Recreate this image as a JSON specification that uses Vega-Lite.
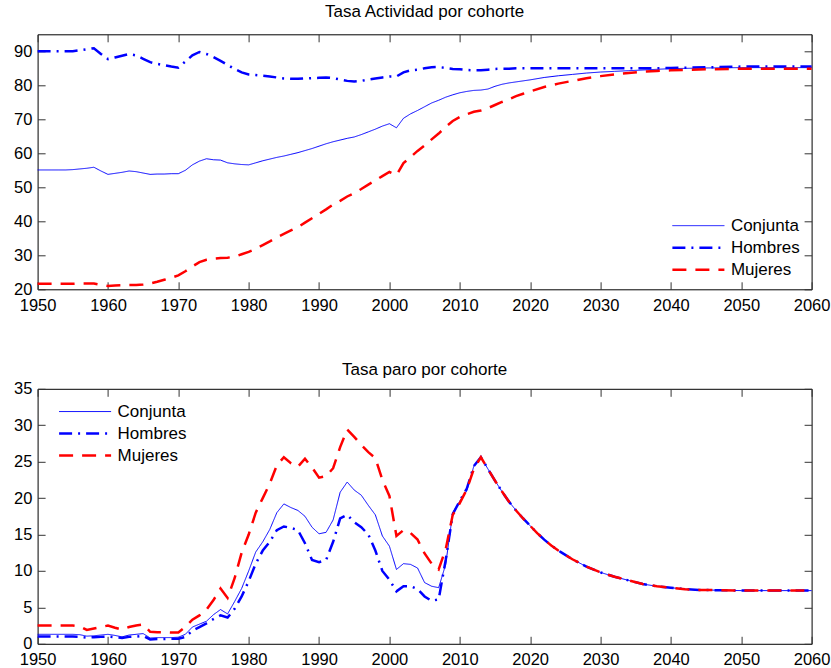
{
  "$schema": "https://vega.github.io/schema/vega-lite/v6.json",
  "padding": {"left": 12.6, "top": 2.3, "right": 5, "bottom": 5},
  "background": "white",
  "config": {
    "font": "Liberation Sans",
    "view": {"stroke": "#000000", "strokeWidth": 1},
    "axis": {"grid": false, "domain": false, "ticks": true, "tickSize": -7.5, "tickColor": "#333333", "tickWidth": 1, "labelFontSize": 16.5, "labelColor": "#000000", "labelFont": "Liberation Sans", "labelFlush": false, "labelOverlap": false},
    "axisBottom": {"labelPadding": 15.7},
    "axisLeft": {"labelPadding": 13.2},
    "legend": {"labelFontSize": 17, "labelFont": "Liberation Sans", "labelColor": "#000000", "symbolType": "stroke", "symbolSize": 2704, "clipHeight": 21.7, "labelOffset": 5, "padding": 0, "rowPadding": 0},
    "title": {"fontSize": 17, "font": "Liberation Sans", "fontWeight": "normal", "color": "#000000", "frame": "group", "anchor": "middle"}
  },
  "datasets": {
    "act": [
      {"year":1950,"serie":"Conjunta","value":55.1},{"year":1951,"serie":"Conjunta","value":55.1},{"year":1952,"serie":"Conjunta","value":55.1},{"year":1953,"serie":"Conjunta","value":55.1},{"year":1954,"serie":"Conjunta","value":55.1},{"year":1955,"serie":"Conjunta","value":55.2},{"year":1956,"serie":"Conjunta","value":55.4},{"year":1957,"serie":"Conjunta","value":55.6},{"year":1958,"serie":"Conjunta","value":55.9},{"year":1959,"serie":"Conjunta","value":54.8},
      {"year":1960,"serie":"Conjunta","value":53.8},{"year":1961,"serie":"Conjunta","value":54.1},{"year":1962,"serie":"Conjunta","value":54.4},{"year":1963,"serie":"Conjunta","value":54.8},{"year":1964,"serie":"Conjunta","value":54.6},{"year":1965,"serie":"Conjunta","value":54.2},{"year":1966,"serie":"Conjunta","value":53.8},{"year":1967,"serie":"Conjunta","value":53.9},{"year":1968,"serie":"Conjunta","value":53.9},{"year":1969,"serie":"Conjunta","value":54.0},
      {"year":1970,"serie":"Conjunta","value":54.0},{"year":1971,"serie":"Conjunta","value":55.0},{"year":1972,"serie":"Conjunta","value":56.6},{"year":1973,"serie":"Conjunta","value":57.7},{"year":1974,"serie":"Conjunta","value":58.4},{"year":1975,"serie":"Conjunta","value":58.1},{"year":1976,"serie":"Conjunta","value":58.0},{"year":1977,"serie":"Conjunta","value":57.2},{"year":1978,"serie":"Conjunta","value":56.9},{"year":1979,"serie":"Conjunta","value":56.7},
      {"year":1980,"serie":"Conjunta","value":56.6},{"year":1981,"serie":"Conjunta","value":57.2},{"year":1982,"serie":"Conjunta","value":57.8},{"year":1983,"serie":"Conjunta","value":58.3},{"year":1984,"serie":"Conjunta","value":58.8},{"year":1985,"serie":"Conjunta","value":59.2},{"year":1986,"serie":"Conjunta","value":59.7},{"year":1987,"serie":"Conjunta","value":60.2},{"year":1988,"serie":"Conjunta","value":60.8},{"year":1989,"serie":"Conjunta","value":61.4},
      {"year":1990,"serie":"Conjunta","value":62.1},{"year":1991,"serie":"Conjunta","value":62.8},{"year":1992,"serie":"Conjunta","value":63.4},{"year":1993,"serie":"Conjunta","value":63.9},{"year":1994,"serie":"Conjunta","value":64.4},{"year":1995,"serie":"Conjunta","value":64.8},{"year":1996,"serie":"Conjunta","value":65.5},{"year":1997,"serie":"Conjunta","value":66.3},{"year":1998,"serie":"Conjunta","value":67.1},{"year":1999,"serie":"Conjunta","value":68.0},
      {"year":2000,"serie":"Conjunta","value":68.7},{"year":2001,"serie":"Conjunta","value":67.5},{"year":2002,"serie":"Conjunta","value":70.3},{"year":2003,"serie":"Conjunta","value":71.6},{"year":2004,"serie":"Conjunta","value":72.6},{"year":2005,"serie":"Conjunta","value":73.7},{"year":2006,"serie":"Conjunta","value":74.8},{"year":2007,"serie":"Conjunta","value":75.6},{"year":2008,"serie":"Conjunta","value":76.5},{"year":2009,"serie":"Conjunta","value":77.2},
      {"year":2010,"serie":"Conjunta","value":77.8},{"year":2011,"serie":"Conjunta","value":78.2},{"year":2012,"serie":"Conjunta","value":78.5},{"year":2013,"serie":"Conjunta","value":78.6},{"year":2014,"serie":"Conjunta","value":78.9},{"year":2015,"serie":"Conjunta","value":79.7},{"year":2016,"serie":"Conjunta","value":80.3},{"year":2017,"serie":"Conjunta","value":80.7},{"year":2018,"serie":"Conjunta","value":81.0},{"year":2019,"serie":"Conjunta","value":81.3},
      {"year":2020,"serie":"Conjunta","value":81.6},{"year":2022,"serie":"Conjunta","value":82.3},{"year":2024,"serie":"Conjunta","value":82.8},{"year":2026,"serie":"Conjunta","value":83.2},{"year":2028,"serie":"Conjunta","value":83.6},{"year":2030,"serie":"Conjunta","value":83.9},{"year":2032,"serie":"Conjunta","value":84.1},{"year":2034,"serie":"Conjunta","value":84.3},{"year":2036,"serie":"Conjunta","value":84.5},{"year":2038,"serie":"Conjunta","value":84.7},
      {"year":2040,"serie":"Conjunta","value":84.9},{"year":2045,"serie":"Conjunta","value":85.1},{"year":2050,"serie":"Conjunta","value":85.2},{"year":2055,"serie":"Conjunta","value":85.2},{"year":2060,"serie":"Conjunta","value":85.2},

      {"year":1950,"serie":"Hombres","value":90.0},{"year":1951,"serie":"Hombres","value":90.0},{"year":1952,"serie":"Hombres","value":90.0},{"year":1953,"serie":"Hombres","value":90.0},{"year":1954,"serie":"Hombres","value":90.0},{"year":1955,"serie":"Hombres","value":90.0},{"year":1956,"serie":"Hombres","value":90.3},{"year":1957,"serie":"Hombres","value":90.6},{"year":1958,"serie":"Hombres","value":90.9},{"year":1959,"serie":"Hombres","value":89.2},
      {"year":1960,"serie":"Hombres","value":87.7},{"year":1961,"serie":"Hombres","value":88.2},{"year":1962,"serie":"Hombres","value":88.7},{"year":1963,"serie":"Hombres","value":89.2},{"year":1964,"serie":"Hombres","value":88.8},{"year":1965,"serie":"Hombres","value":87.8},{"year":1966,"serie":"Hombres","value":86.8},{"year":1967,"serie":"Hombres","value":86.3},{"year":1968,"serie":"Hombres","value":85.9},{"year":1969,"serie":"Hombres","value":85.5},
      {"year":1970,"serie":"Hombres","value":85.2},{"year":1971,"serie":"Hombres","value":87.0},{"year":1972,"serie":"Hombres","value":88.8},{"year":1973,"serie":"Hombres","value":89.8},{"year":1974,"serie":"Hombres","value":89.2},{"year":1975,"serie":"Hombres","value":88.3},{"year":1976,"serie":"Hombres","value":87.2},{"year":1977,"serie":"Hombres","value":86.0},{"year":1978,"serie":"Hombres","value":84.8},{"year":1979,"serie":"Hombres","value":83.8},
      {"year":1980,"serie":"Hombres","value":83.2},{"year":1981,"serie":"Hombres","value":83.0},{"year":1982,"serie":"Hombres","value":82.8},{"year":1983,"serie":"Hombres","value":82.6},{"year":1984,"serie":"Hombres","value":82.3},{"year":1985,"serie":"Hombres","value":82.0},{"year":1986,"serie":"Hombres","value":81.9},{"year":1987,"serie":"Hombres","value":81.9},{"year":1988,"serie":"Hombres","value":82.0},{"year":1989,"serie":"Hombres","value":82.1},
      {"year":1990,"serie":"Hombres","value":82.2},{"year":1991,"serie":"Hombres","value":82.3},{"year":1992,"serie":"Hombres","value":82.1},{"year":1993,"serie":"Hombres","value":81.7},{"year":1994,"serie":"Hombres","value":81.3},{"year":1995,"serie":"Hombres","value":81.1},{"year":1996,"serie":"Hombres","value":81.3},{"year":1997,"serie":"Hombres","value":81.7},{"year":1998,"serie":"Hombres","value":82.0},{"year":1999,"serie":"Hombres","value":82.3},
      {"year":2000,"serie":"Hombres","value":82.6},{"year":2001,"serie":"Hombres","value":82.6},{"year":2002,"serie":"Hombres","value":83.8},{"year":2003,"serie":"Hombres","value":84.4},{"year":2004,"serie":"Hombres","value":84.6},{"year":2005,"serie":"Hombres","value":85.0},{"year":2006,"serie":"Hombres","value":85.3},{"year":2007,"serie":"Hombres","value":85.4},{"year":2008,"serie":"Hombres","value":85.1},{"year":2009,"serie":"Hombres","value":84.8},
      {"year":2010,"serie":"Hombres","value":84.7},{"year":2011,"serie":"Hombres","value":84.5},{"year":2012,"serie":"Hombres","value":84.4},{"year":2013,"serie":"Hombres","value":84.4},{"year":2014,"serie":"Hombres","value":84.6},{"year":2015,"serie":"Hombres","value":84.8},{"year":2016,"serie":"Hombres","value":84.9},{"year":2017,"serie":"Hombres","value":84.9},{"year":2018,"serie":"Hombres","value":85.0},{"year":2019,"serie":"Hombres","value":85.0},
      {"year":2020,"serie":"Hombres","value":85.0},{"year":2022,"serie":"Hombres","value":85.0},{"year":2024,"serie":"Hombres","value":85.0},{"year":2026,"serie":"Hombres","value":85.0},{"year":2028,"serie":"Hombres","value":85.0},{"year":2030,"serie":"Hombres","value":85.0},{"year":2032,"serie":"Hombres","value":85.0},{"year":2034,"serie":"Hombres","value":85.0},{"year":2036,"serie":"Hombres","value":85.0},{"year":2038,"serie":"Hombres","value":85.0},
      {"year":2040,"serie":"Hombres","value":85.1},{"year":2045,"serie":"Hombres","value":85.3},{"year":2050,"serie":"Hombres","value":85.5},{"year":2055,"serie":"Hombres","value":85.5},{"year":2060,"serie":"Hombres","value":85.5},

      {"year":1950,"serie":"Mujeres","value":21.6},{"year":1951,"serie":"Mujeres","value":21.6},{"year":1952,"serie":"Mujeres","value":21.6},{"year":1953,"serie":"Mujeres","value":21.6},{"year":1954,"serie":"Mujeres","value":21.6},{"year":1955,"serie":"Mujeres","value":21.6},{"year":1956,"serie":"Mujeres","value":21.7},{"year":1957,"serie":"Mujeres","value":21.7},{"year":1958,"serie":"Mujeres","value":21.7},{"year":1959,"serie":"Mujeres","value":21.3},
      {"year":1960,"serie":"Mujeres","value":21.0},{"year":1961,"serie":"Mujeres","value":21.1},{"year":1962,"serie":"Mujeres","value":21.2},{"year":1963,"serie":"Mujeres","value":21.3},{"year":1964,"serie":"Mujeres","value":21.3},{"year":1965,"serie":"Mujeres","value":21.4},{"year":1966,"serie":"Mujeres","value":21.7},{"year":1967,"serie":"Mujeres","value":22.2},{"year":1968,"serie":"Mujeres","value":22.8},{"year":1969,"serie":"Mujeres","value":23.4},
      {"year":1970,"serie":"Mujeres","value":24.1},{"year":1971,"serie":"Mujeres","value":25.3},{"year":1972,"serie":"Mujeres","value":26.7},{"year":1973,"serie":"Mujeres","value":28.0},{"year":1974,"serie":"Mujeres","value":28.7},{"year":1975,"serie":"Mujeres","value":29.0},{"year":1976,"serie":"Mujeres","value":29.2},{"year":1977,"serie":"Mujeres","value":29.3},{"year":1978,"serie":"Mujeres","value":29.6},{"year":1979,"serie":"Mujeres","value":30.3},
      {"year":1980,"serie":"Mujeres","value":31.0},{"year":1981,"serie":"Mujeres","value":31.9},{"year":1982,"serie":"Mujeres","value":33.0},{"year":1983,"serie":"Mujeres","value":34.1},{"year":1984,"serie":"Mujeres","value":35.3},{"year":1985,"serie":"Mujeres","value":36.3},{"year":1986,"serie":"Mujeres","value":37.3},{"year":1987,"serie":"Mujeres","value":38.3},{"year":1988,"serie":"Mujeres","value":39.6},{"year":1989,"serie":"Mujeres","value":40.9},
      {"year":1990,"serie":"Mujeres","value":42.2},{"year":1991,"serie":"Mujeres","value":43.5},{"year":1992,"serie":"Mujeres","value":44.9},{"year":1993,"serie":"Mujeres","value":46.0},{"year":1994,"serie":"Mujeres","value":47.3},{"year":1995,"serie":"Mujeres","value":48.3},{"year":1996,"serie":"Mujeres","value":49.5},{"year":1997,"serie":"Mujeres","value":50.8},{"year":1998,"serie":"Mujeres","value":52.0},{"year":1999,"serie":"Mujeres","value":53.3},
      {"year":2000,"serie":"Mujeres","value":54.5},{"year":2001,"serie":"Mujeres","value":53.6},{"year":2002,"serie":"Mujeres","value":57.1},{"year":2003,"serie":"Mujeres","value":58.9},{"year":2004,"serie":"Mujeres","value":60.7},{"year":2005,"serie":"Mujeres","value":62.3},{"year":2006,"serie":"Mujeres","value":64.1},{"year":2007,"serie":"Mujeres","value":65.8},{"year":2008,"serie":"Mujeres","value":67.8},{"year":2009,"serie":"Mujeres","value":69.5},
      {"year":2010,"serie":"Mujeres","value":70.7},{"year":2011,"serie":"Mujeres","value":71.5},{"year":2012,"serie":"Mujeres","value":72.2},{"year":2013,"serie":"Mujeres","value":72.6},{"year":2014,"serie":"Mujeres","value":73.3},{"year":2015,"serie":"Mujeres","value":74.2},{"year":2016,"serie":"Mujeres","value":75.1},{"year":2017,"serie":"Mujeres","value":75.9},{"year":2018,"serie":"Mujeres","value":76.8},{"year":2019,"serie":"Mujeres","value":77.5},
      {"year":2020,"serie":"Mujeres","value":78.2},{"year":2022,"serie":"Mujeres","value":79.5},{"year":2024,"serie":"Mujeres","value":80.5},{"year":2026,"serie":"Mujeres","value":81.3},{"year":2028,"serie":"Mujeres","value":82.1},{"year":2030,"serie":"Mujeres","value":82.7},{"year":2032,"serie":"Mujeres","value":83.2},{"year":2034,"serie":"Mujeres","value":83.6},{"year":2036,"serie":"Mujeres","value":84.0},{"year":2038,"serie":"Mujeres","value":84.2},
      {"year":2040,"serie":"Mujeres","value":84.4},{"year":2045,"serie":"Mujeres","value":84.7},{"year":2050,"serie":"Mujeres","value":84.9},{"year":2055,"serie":"Mujeres","value":84.9},{"year":2060,"serie":"Mujeres","value":84.9}
    ],
    "paro": [
      {"year":1950,"serie":"Conjunta","value":1.3},{"year":1951,"serie":"Conjunta","value":1.3},{"year":1952,"serie":"Conjunta","value":1.3},{"year":1953,"serie":"Conjunta","value":1.3},{"year":1954,"serie":"Conjunta","value":1.3},{"year":1955,"serie":"Conjunta","value":1.3},{"year":1956,"serie":"Conjunta","value":1.25},{"year":1957,"serie":"Conjunta","value":1.05},{"year":1958,"serie":"Conjunta","value":1.1},{"year":1959,"serie":"Conjunta","value":1.2},
      {"year":1960,"serie":"Conjunta","value":1.3},{"year":1961,"serie":"Conjunta","value":1.15},{"year":1962,"serie":"Conjunta","value":0.95},{"year":1963,"serie":"Conjunta","value":1.2},{"year":1964,"serie":"Conjunta","value":1.3},{"year":1965,"serie":"Conjunta","value":1.4},{"year":1966,"serie":"Conjunta","value":0.8},{"year":1967,"serie":"Conjunta","value":0.85},{"year":1968,"serie":"Conjunta","value":0.85},{"year":1969,"serie":"Conjunta","value":0.85},
      {"year":1970,"serie":"Conjunta","value":0.9},{"year":1971,"serie":"Conjunta","value":1.3},{"year":1972,"serie":"Conjunta","value":2.3},{"year":1973,"serie":"Conjunta","value":2.7},{"year":1974,"serie":"Conjunta","value":3.1},{"year":1975,"serie":"Conjunta","value":4.0},{"year":1976,"serie":"Conjunta","value":4.7},{"year":1977,"serie":"Conjunta","value":4.1},{"year":1978,"serie":"Conjunta","value":5.8},{"year":1979,"serie":"Conjunta","value":7.6},
      {"year":1980,"serie":"Conjunta","value":10.0},{"year":1981,"serie":"Conjunta","value":12.6},{"year":1982,"serie":"Conjunta","value":14.0},{"year":1983,"serie":"Conjunta","value":15.7},{"year":1984,"serie":"Conjunta","value":18.0},{"year":1985,"serie":"Conjunta","value":19.2},{"year":1986,"serie":"Conjunta","value":18.7},{"year":1987,"serie":"Conjunta","value":18.3},{"year":1988,"serie":"Conjunta","value":17.5},{"year":1989,"serie":"Conjunta","value":16.0},
      {"year":1990,"serie":"Conjunta","value":15.1},{"year":1991,"serie":"Conjunta","value":15.3},{"year":1992,"serie":"Conjunta","value":17.0},{"year":1993,"serie":"Conjunta","value":20.8},{"year":1994,"serie":"Conjunta","value":22.2},{"year":1995,"serie":"Conjunta","value":21.1},{"year":1996,"serie":"Conjunta","value":20.4},{"year":1997,"serie":"Conjunta","value":19.0},{"year":1998,"serie":"Conjunta","value":17.7},{"year":1999,"serie":"Conjunta","value":14.8},
      {"year":2000,"serie":"Conjunta","value":13.4},{"year":2001,"serie":"Conjunta","value":10.2},{"year":2002,"serie":"Conjunta","value":11.0},{"year":2003,"serie":"Conjunta","value":10.9},{"year":2004,"serie":"Conjunta","value":10.4},{"year":2005,"serie":"Conjunta","value":8.4},{"year":2006,"serie":"Conjunta","value":7.9},{"year":2007,"serie":"Conjunta","value":7.7},{"year":2008,"serie":"Conjunta","value":10.9},{"year":2009,"serie":"Conjunta","value":18.0},
      {"year":2010,"serie":"Conjunta","value":19.6},{"year":2011,"serie":"Conjunta","value":21.0},{"year":2012,"serie":"Conjunta","value":24.4},{"year":2013,"serie":"Conjunta","value":25.6},{"year":2014,"serie":"Conjunta","value":24.0},{"year":2015,"serie":"Conjunta","value":22.4},{"year":2016,"serie":"Conjunta","value":20.9},{"year":2017,"serie":"Conjunta","value":19.5},{"year":2018,"serie":"Conjunta","value":18.3},{"year":2019,"serie":"Conjunta","value":17.2},
      {"year":2020,"serie":"Conjunta","value":16.2},{"year":2021,"serie":"Conjunta","value":15.2},{"year":2022,"serie":"Conjunta","value":14.3},{"year":2023,"serie":"Conjunta","value":13.5},{"year":2024,"serie":"Conjunta","value":12.8},{"year":2025,"serie":"Conjunta","value":12.2},{"year":2026,"serie":"Conjunta","value":11.6},{"year":2028,"serie":"Conjunta","value":10.6},{"year":2030,"serie":"Conjunta","value":9.8},{"year":2032,"serie":"Conjunta","value":9.2},
      {"year":2034,"serie":"Conjunta","value":8.7},{"year":2036,"serie":"Conjunta","value":8.2},{"year":2038,"serie":"Conjunta","value":7.9},{"year":2040,"serie":"Conjunta","value":7.7},{"year":2042,"serie":"Conjunta","value":7.5},{"year":2044,"serie":"Conjunta","value":7.4},{"year":2047,"serie":"Conjunta","value":7.35},{"year":2050,"serie":"Conjunta","value":7.3},{"year":2055,"serie":"Conjunta","value":7.3},{"year":2060,"serie":"Conjunta","value":7.3},

      {"year":1950,"serie":"Hombres","value":1.0},{"year":1951,"serie":"Hombres","value":1.0},{"year":1952,"serie":"Hombres","value":1.0},{"year":1953,"serie":"Hombres","value":1.0},{"year":1954,"serie":"Hombres","value":1.0},{"year":1955,"serie":"Hombres","value":1.0},{"year":1956,"serie":"Hombres","value":0.95},{"year":1957,"serie":"Hombres","value":0.85},{"year":1958,"serie":"Hombres","value":0.9},{"year":1959,"serie":"Hombres","value":0.95},
      {"year":1960,"serie":"Hombres","value":1.0},{"year":1961,"serie":"Hombres","value":0.9},{"year":1962,"serie":"Hombres","value":0.8},{"year":1963,"serie":"Hombres","value":0.95},{"year":1964,"serie":"Hombres","value":1.0},{"year":1965,"serie":"Hombres","value":1.1},{"year":1966,"serie":"Hombres","value":0.6},{"year":1967,"serie":"Hombres","value":0.65},{"year":1968,"serie":"Hombres","value":0.65},{"year":1969,"serie":"Hombres","value":0.7},
      {"year":1970,"serie":"Hombres","value":0.7},{"year":1971,"serie":"Hombres","value":0.95},{"year":1972,"serie":"Hombres","value":1.8},{"year":1973,"serie":"Hombres","value":2.3},{"year":1974,"serie":"Hombres","value":2.8},{"year":1975,"serie":"Hombres","value":3.4},{"year":1976,"serie":"Hombres","value":3.9},{"year":1977,"serie":"Hombres","value":3.6},{"year":1978,"serie":"Hombres","value":4.8},{"year":1979,"serie":"Hombres","value":6.5},
      {"year":1980,"serie":"Hombres","value":8.6},{"year":1981,"serie":"Hombres","value":11.0},{"year":1982,"serie":"Hombres","value":12.8},{"year":1983,"serie":"Hombres","value":14.0},{"year":1984,"serie":"Hombres","value":15.6},{"year":1985,"serie":"Hombres","value":16.1},{"year":1986,"serie":"Hombres","value":15.9},{"year":1987,"serie":"Hombres","value":15.6},{"year":1988,"serie":"Hombres","value":13.8},{"year":1989,"serie":"Hombres","value":11.5},
      {"year":1990,"serie":"Hombres","value":11.2},{"year":1991,"serie":"Hombres","value":11.5},{"year":1992,"serie":"Hombres","value":14.0},{"year":1993,"serie":"Hombres","value":17.2},{"year":1994,"serie":"Hombres","value":17.7},{"year":1995,"serie":"Hombres","value":16.7},{"year":1996,"serie":"Hombres","value":16.0},{"year":1997,"serie":"Hombres","value":15.0},{"year":1998,"serie":"Hombres","value":12.8},{"year":1999,"serie":"Hombres","value":10.0},
      {"year":2000,"serie":"Hombres","value":8.8},{"year":2001,"serie":"Hombres","value":7.2},{"year":2002,"serie":"Hombres","value":7.9},{"year":2003,"serie":"Hombres","value":7.9},{"year":2004,"serie":"Hombres","value":7.5},{"year":2005,"serie":"Hombres","value":6.5},{"year":2006,"serie":"Hombres","value":5.9},{"year":2007,"serie":"Hombres","value":6.1},{"year":2008,"serie":"Hombres","value":11.5},{"year":2009,"serie":"Hombres","value":17.8},
      {"year":2010,"serie":"Hombres","value":19.6},{"year":2011,"serie":"Hombres","value":21.3},{"year":2012,"serie":"Hombres","value":24.4},{"year":2013,"serie":"Hombres","value":25.6},{"year":2014,"serie":"Hombres","value":24.0},{"year":2015,"serie":"Hombres","value":22.4},{"year":2016,"serie":"Hombres","value":20.9},{"year":2017,"serie":"Hombres","value":19.5},{"year":2018,"serie":"Hombres","value":18.3},{"year":2019,"serie":"Hombres","value":17.2},
      {"year":2020,"serie":"Hombres","value":16.2},{"year":2021,"serie":"Hombres","value":15.2},{"year":2022,"serie":"Hombres","value":14.3},{"year":2023,"serie":"Hombres","value":13.5},{"year":2024,"serie":"Hombres","value":12.8},{"year":2025,"serie":"Hombres","value":12.2},{"year":2026,"serie":"Hombres","value":11.6},{"year":2028,"serie":"Hombres","value":10.6},{"year":2030,"serie":"Hombres","value":9.8},{"year":2032,"serie":"Hombres","value":9.2},
      {"year":2034,"serie":"Hombres","value":8.7},{"year":2036,"serie":"Hombres","value":8.2},{"year":2038,"serie":"Hombres","value":7.9},{"year":2040,"serie":"Hombres","value":7.7},{"year":2042,"serie":"Hombres","value":7.5},{"year":2044,"serie":"Hombres","value":7.4},{"year":2047,"serie":"Hombres","value":7.35},{"year":2050,"serie":"Hombres","value":7.3},{"year":2055,"serie":"Hombres","value":7.3},{"year":2060,"serie":"Hombres","value":7.3},

      {"year":1950,"serie":"Mujeres","value":2.5},{"year":1951,"serie":"Mujeres","value":2.5},{"year":1952,"serie":"Mujeres","value":2.5},{"year":1953,"serie":"Mujeres","value":2.5},{"year":1954,"serie":"Mujeres","value":2.5},{"year":1955,"serie":"Mujeres","value":2.5},{"year":1956,"serie":"Mujeres","value":2.4},{"year":1957,"serie":"Mujeres","value":1.9},{"year":1958,"serie":"Mujeres","value":2.1},{"year":1959,"serie":"Mujeres","value":2.3},
      {"year":1960,"serie":"Mujeres","value":2.5},{"year":1961,"serie":"Mujeres","value":2.2},{"year":1962,"serie":"Mujeres","value":1.95},{"year":1963,"serie":"Mujeres","value":2.3},{"year":1964,"serie":"Mujeres","value":2.5},{"year":1965,"serie":"Mujeres","value":2.65},{"year":1966,"serie":"Mujeres","value":1.65},{"year":1967,"serie":"Mujeres","value":1.6},{"year":1968,"serie":"Mujeres","value":1.6},{"year":1969,"serie":"Mujeres","value":1.55},
      {"year":1970,"serie":"Mujeres","value":1.55},{"year":1971,"serie":"Mujeres","value":2.3},{"year":1972,"serie":"Mujeres","value":3.3},{"year":1973,"serie":"Mujeres","value":3.9},{"year":1974,"serie":"Mujeres","value":4.7},{"year":1975,"serie":"Mujeres","value":6.0},{"year":1976,"serie":"Mujeres","value":7.6},{"year":1977,"serie":"Mujeres","value":6.3},{"year":1978,"serie":"Mujeres","value":9.0},{"year":1979,"serie":"Mujeres","value":12.5},
      {"year":1980,"serie":"Mujeres","value":15.0},{"year":1981,"serie":"Mujeres","value":18.0},{"year":1982,"serie":"Mujeres","value":20.0},{"year":1983,"serie":"Mujeres","value":22.0},{"year":1984,"serie":"Mujeres","value":24.5},{"year":1985,"serie":"Mujeres","value":25.6},{"year":1986,"serie":"Mujeres","value":24.8},{"year":1987,"serie":"Mujeres","value":24.3},{"year":1988,"serie":"Mujeres","value":25.4},{"year":1989,"serie":"Mujeres","value":24.2},
      {"year":1990,"serie":"Mujeres","value":22.8},{"year":1991,"serie":"Mujeres","value":23.0},{"year":1992,"serie":"Mujeres","value":24.1},{"year":1993,"serie":"Mujeres","value":27.0},{"year":1994,"serie":"Mujeres","value":29.4},{"year":1995,"serie":"Mujeres","value":28.4},{"year":1996,"serie":"Mujeres","value":27.3},{"year":1997,"serie":"Mujeres","value":26.3},{"year":1998,"serie":"Mujeres","value":25.5},{"year":1999,"serie":"Mujeres","value":22.5},
      {"year":2000,"serie":"Mujeres","value":20.3},{"year":2001,"serie":"Mujeres","value":14.8},{"year":2002,"serie":"Mujeres","value":15.6},{"year":2003,"serie":"Mujeres","value":15.2},{"year":2004,"serie":"Mujeres","value":14.3},{"year":2005,"serie":"Mujeres","value":12.4},{"year":2006,"serie":"Mujeres","value":11.0},{"year":2007,"serie":"Mujeres","value":10.2},{"year":2008,"serie":"Mujeres","value":13.0},{"year":2009,"serie":"Mujeres","value":17.7},
      {"year":2010,"serie":"Mujeres","value":19.3},{"year":2011,"serie":"Mujeres","value":21.2},{"year":2012,"serie":"Mujeres","value":24.0},{"year":2013,"serie":"Mujeres","value":25.6},{"year":2014,"serie":"Mujeres","value":24.0},{"year":2015,"serie":"Mujeres","value":22.4},{"year":2016,"serie":"Mujeres","value":20.9},{"year":2017,"serie":"Mujeres","value":19.5},{"year":2018,"serie":"Mujeres","value":18.3},{"year":2019,"serie":"Mujeres","value":17.2},
      {"year":2020,"serie":"Mujeres","value":16.2},{"year":2021,"serie":"Mujeres","value":15.2},{"year":2022,"serie":"Mujeres","value":14.3},{"year":2023,"serie":"Mujeres","value":13.5},{"year":2024,"serie":"Mujeres","value":12.8},{"year":2025,"serie":"Mujeres","value":12.2},{"year":2026,"serie":"Mujeres","value":11.6},{"year":2028,"serie":"Mujeres","value":10.6},{"year":2030,"serie":"Mujeres","value":9.8},{"year":2032,"serie":"Mujeres","value":9.2},
      {"year":2034,"serie":"Mujeres","value":8.7},{"year":2036,"serie":"Mujeres","value":8.2},{"year":2038,"serie":"Mujeres","value":7.9},{"year":2040,"serie":"Mujeres","value":7.7},{"year":2042,"serie":"Mujeres","value":7.5},{"year":2044,"serie":"Mujeres","value":7.4},{"year":2047,"serie":"Mujeres","value":7.35},{"year":2050,"serie":"Mujeres","value":7.3},{"year":2055,"serie":"Mujeres","value":7.3},{"year":2060,"serie":"Mujeres","value":7.3}
    ]
  },
  "spacing": 44.5,
  "vconcat": [
    {
      "title": {"text": "Tasa Actividad por cohorte", "offset": 12.5},
      "width": 774,
      "height": 255,
      "data": {"name": "act"},
      "layer": [
        {
          "mark": {"type": "line"},
          "encoding": {
            "x": {"field": "year", "type": "quantitative", "title": null, "scale": {"domain": [1950, 2060], "nice": false, "zero": false}, "axis": {"values": [1950,1960,1970,1980,1990,2000,2010,2020,2030,2040,2050,2060], "format": "d"}},
            "y": {"field": "value", "type": "quantitative", "title": null, "scale": {"domain": [20, 95], "nice": false, "zero": false}, "axis": {"values": [20,30,40,50,60,70,80,90]}},
            "color": {"field": "serie", "type": "nominal", "scale": {"domain": ["Conjunta","Hombres","Mujeres"], "range": ["#0000ff","#0000ff","#ff0000"]}, "legend": {"title": null, "orient": "none", "legendX": 633.3, "legendY": 180.5}},
            "strokeDash": {"field": "serie", "type": "nominal", "scale": {"domain": ["Conjunta","Hombres","Mujeres"], "range": [[1,0],[13,6,2,6],[14,9]]}, "legend": {"title": null, "orient": "none", "legendX": 633.3, "legendY": 180.5}},
            "strokeWidth": {"field": "serie", "type": "nominal", "scale": {"type": "ordinal", "domain": ["Conjunta","Hombres","Mujeres"], "range": [1, 2.5, 2.5]}, "legend": {"title": null, "orient": "none", "legendX": 633.3, "legendY": 180.5}}
          }
        },
        {
          "mark": {"type": "line", "strokeOpacity": 0},
          "encoding": {
            "x": {"field": "year", "type": "quantitative", "title": null, "scale": {"domain": [1950, 2060], "nice": false, "zero": false}, "axis": {"orient": "top", "labels": false, "values": [1950,1960,1970,1980,1990,2000,2010,2020,2030,2040,2050,2060]}},
            "y": {"field": "value", "type": "quantitative", "title": null, "scale": {"domain": [20, 95], "nice": false, "zero": false}, "axis": {"orient": "right", "labels": false, "values": [20,30,40,50,60,70,80,90]}}
          }
        }
      ],
      "resolve": {"axis": {"x": "independent", "y": "independent"}}
    },
    {
      "title": {"text": "Tasa paro por cohorte", "offset": 2},
      "width": 774,
      "height": 255,
      "data": {"name": "paro"},
      "layer": [
        {
          "mark": {"type": "line"},
          "encoding": {
            "x": {"field": "year", "type": "quantitative", "title": null, "scale": {"domain": [1950, 2060], "nice": false, "zero": false}, "axis": {"values": [1950,1960,1970,1980,1990,2000,2010,2020,2030,2040,2050,2060], "format": "d"}},
            "y": {"field": "value", "type": "quantitative", "title": null, "scale": {"domain": [0, 35], "nice": false, "zero": false}, "axis": {"values": [0,5,10,15,20,25,30,35]}},
            "color": {"field": "serie", "type": "nominal", "scale": {"domain": ["Conjunta","Hombres","Mujeres"], "range": ["#0000ff","#0000ff","#ff0000"]}, "legend": {"title": null, "orient": "none", "legendX": 20, "legendY": 11.9}},
            "strokeDash": {"field": "serie", "type": "nominal", "scale": {"domain": ["Conjunta","Hombres","Mujeres"], "range": [[1,0],[13,6,2,6],[14,9]]}, "legend": {"title": null, "orient": "none", "legendX": 20, "legendY": 11.9}},
            "strokeWidth": {"field": "serie", "type": "nominal", "scale": {"type": "ordinal", "domain": ["Conjunta","Hombres","Mujeres"], "range": [1, 2.5, 2.5]}, "legend": {"title": null, "orient": "none", "legendX": 20, "legendY": 11.9}}
          }
        },
        {
          "mark": {"type": "line", "strokeOpacity": 0},
          "encoding": {
            "x": {"field": "year", "type": "quantitative", "title": null, "scale": {"domain": [1950, 2060], "nice": false, "zero": false}, "axis": {"orient": "top", "labels": false, "values": [1950,1960,1970,1980,1990,2000,2010,2020,2030,2040,2050,2060]}},
            "y": {"field": "value", "type": "quantitative", "title": null, "scale": {"domain": [0, 35], "nice": false, "zero": false}, "axis": {"orient": "right", "labels": false, "values": [0,5,10,15,20,25,30,35]}}
          }
        }
      ],
      "resolve": {"axis": {"x": "independent", "y": "independent"}}
    }
  ],
  "resolve": {
    "scale": {"x": "independent", "y": "independent", "color": "independent", "strokeDash": "independent", "strokeWidth": "independent"},
    "legend": {"color": "independent", "strokeDash": "independent", "strokeWidth": "independent"}
  }
}
